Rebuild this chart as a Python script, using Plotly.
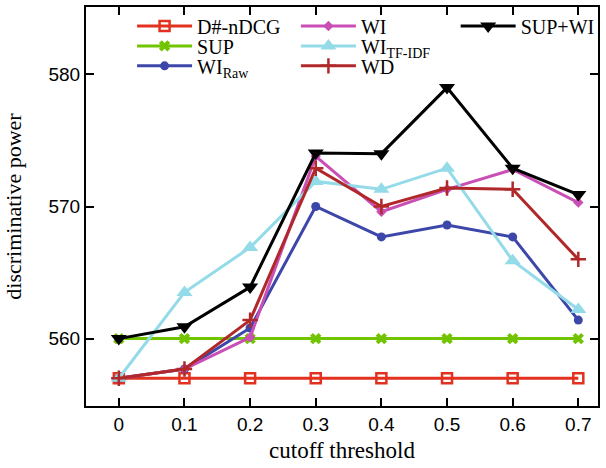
import plotly.graph_objects as go

x = [0, 0.1, 0.2, 0.3, 0.4, 0.5, 0.6, 0.7]
x_ticks = ["0", "0.1", "0.2", "0.3", "0.4", "0.5", "0.6", "0.7"]
d_ndcg = [557, 557, 557, 557, 557, 557, 557, 557]
sup = [560, 560, 560, 560, 560, 560, 560, 560]
wi_raw = [557, 557.7, 560.8, 570, 567.7, 568.6, 567.7, 561.4]
wi = [557, 557.7, 560.1, 573.8, 569.6, 571.3, 572.8, 570.3]
wi_tfidf = [557, 563.5, 566.9, 571.9, 571.3, 572.9, 565.9, 562.2]
wd = [557, 557.7, 561.4, 572.9, 570, 571.4, 571.3, 566]
sup_wi = [560, 560.9, 563.9, 574.05, 574, 579, 572.9, 570.9]

series = [
    ("D#-nDCG", d_ndcg, "#e2321f", "square-open", 10),
    ("SUP", sup, "#72c400", "x", 10),
    ("WI<sub>Raw</sub>", wi_raw, "#3d47aa", "circle", 9),
    ("WI", wi, "#c94fb5", "diamond", 8),
    ("WI<sub>TF-IDF</sub>", wi_tfidf, "#93dbe8", "triangle-up", 14),
    ("WD", wd, "#b0282a", "cross-thin", 11),
    ("SUP+WI", sup_wi, "#000000", "triangle-down", 14),
]

# legend slots (paper coords): one legend per entry, 3 columns
leg_pos = [(0.090, 0.9525), (0.090, 0.9025), (0.090, 0.8525),
           (0.410, 0.9525), (0.410, 0.9025), (0.410, 0.8525),
           (0.722, 0.9525)]

serif = "Liberation Serif, Times New Roman, serif"
sans = "Liberation Sans, Arial, sans-serif"

fig = go.Figure()
legends = {}
for i, ((name, ys, color, sym, size), (lx, ly)) in enumerate(zip(series, leg_pos)):
    key = "legend" if i == 0 else f"legend{i + 1}"
    mk = dict(symbol=sym, size=size, color=color)
    if sym in ("square-open", "cross-thin"):
        mk["line"] = dict(color=color, width=2.5)
    fig.add_trace(go.Scatter(
        x=x, y=ys, name=name, mode="lines+markers",
        line=dict(color=color, width=3), marker=mk, legend=key,
    ))
    legends[key] = dict(x=lx, y=ly, xanchor="left", yanchor="middle",
                        font=dict(family=serif, size=20, color="black"),
                        bgcolor="rgba(0,0,0,0)", itemwidth=55)

fig.update_layout(
    width=606, height=468,
    margin=dict(l=86, r=6, t=6, b=62),
    showlegend=True,
    plot_bgcolor="white", paper_bgcolor="white",
    **legends,
    xaxis=dict(
        range=[-0.05, 0.73], tickvals=x, ticktext=x_ticks,
        ticks="inside", ticklen=8, tickwidth=2, tickcolor="black",
        showline=True, linewidth=2, linecolor="black", mirror="ticks",
        showgrid=False, zeroline=False, automargin=False,
        tickfont=dict(family=sans, size=19, color="black"),
        title=dict(text="cutoff threshold", font=dict(family=serif, size=23, color="black"), standoff=8),
    ),
    yaxis=dict(
        range=[554.9, 585.1], tickvals=[560, 570, 580],
        ticks="inside", ticklen=8, tickwidth=2, tickcolor="black",
        showline=True, linewidth=2, linecolor="black", mirror="ticks",
        showgrid=False, zeroline=False, automargin=False,
        tickfont=dict(family=sans, size=19, color="black"),
        title=dict(text="discriminative power", font=dict(family=serif, size=22, color="black"), standoff=21),
    ),
)

fig.write_html("out.html", config={"displayModeBar": False},
               post_script="document.body.style.margin='0';")
